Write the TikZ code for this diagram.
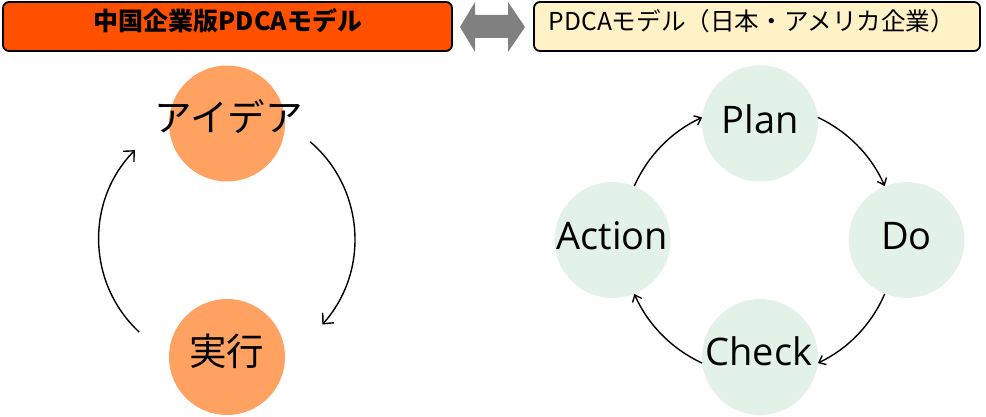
\documentclass[tikz,border=0pt]{standalone}
\usepackage{fontspec}
\usetikzlibrary{arrows.meta}
\newfontfamily\jpfont{Noto Sans CJK JP}
\newfontfamily\latfont{Open Sans}
\definecolor{hdrOrange}{RGB}{255,80,0}
\definecolor{hdrYellow}{RGB}{255,242,198}
\definecolor{circOrange}{RGB}{255,161,96}
\definecolor{circGreen}{RGB}{226,242,230}
\definecolor{dblGrey}{RGB}{128,128,128}
\begin{document}
\begin{tikzpicture}[x=1pt,y=1pt,
  hdrbox/.style={draw=black, line width=1.8pt, rounded corners=6pt, inner sep=0pt},
  orangecirc/.style={circle, fill=circOrange, minimum size=116pt, inner sep=0pt},
  greencirc/.style={circle, fill=circGreen, minimum size=116pt, inner sep=0pt},
  jptxt/.style={anchor=base, inner sep=0pt, font=\jpfont\fontsize{37.5}{40}\selectfont},
  lattxt/.style={anchor=base, inner sep=0pt, font=\latfont\fontsize{38}{40}\selectfont},
  bigcyc/.style={line width=1.4pt, -{Straight Barb[length=8pt,width=15pt]}},
  smallcyc/.style={line width=1.4pt, -{Straight Barb[length=6pt,width=10pt]}}]
\useasboundingbox (0,0) rectangle (986,416);

% headers
\node[hdrbox, fill=hdrOrange, minimum width=449pt, minimum height=49pt] (lhdr) at (227.5,389.5) {};
\node[anchor=base, inner sep=0pt, font=\jpfont\bfseries\fontsize{25}{28}\selectfont] (lhdrtxt) at (228,385) {中国企業版PDCAモデル};
\node[hdrbox, fill=hdrYellow, minimum width=446pt, minimum height=49pt] (rhdr) at (757,389.5) {};
\node[anchor=base, inner sep=0pt, font=\jpfont\fontsize{24.6}{28}\selectfont] (rhdrtxt) at (752,385) {PDCAモデル（日本・アメリカ企業）};

% double arrow
\fill[dblGrey] (460,389) -- (475,414) -- (475,401) -- (508,401) -- (508,414) -- (525,389)
  -- (508,364) -- (508,378) -- (475,378) -- (475,364) -- cycle;

% left cycle
\node[orangecirc] (idea) at (227,292.5) {};
\node[jptxt] (ideatxt) at (228.5,284) {アイデア};
\node[orangecirc] (exec) at (227,59) {};
\node[jptxt] (exectxt) at (226.5,51) {実行};
\coordinate (la1) at (310.1,274.3);
\coordinate (la2) at (322.3,91.5);
\coordinate (lb1) at (139.1,84.0);
\coordinate (lb2) at (134.9,265.9);
\draw[bigcyc] (la1) to[bend left=45.7] (la2);
\draw[bigcyc] (lb1) to[bend left=45.7] (lb2);

% right cycle
\node[greencirc] (plan) at (760,292.5) {};
\node[greencirc] (do) at (906.5,176) {};
\node[greencirc] (check) at (760,59) {};
\node[greencirc] (action) at (612.5,176) {};
\node[lattxt] (plantxt) at (760,283) {Plan};
\node[lattxt] (dotxt) at (906.5,167) {Do};
\node[lattxt] (checktxt) at (759,51) {Check};
\node[lattxt] (actiontxt) at (612.5,167) {Action};
\draw[smallcyc] (plan.6) to[bend left=20.7, looseness=0.88] (do.112);
\draw[smallcyc] (do.248) to[bend left=20.7, looseness=0.88] (check.354);
\draw[smallcyc] (check.186) to[bend left=20.7, looseness=0.88] (action.292);
\draw[smallcyc] (action.68) to[bend left=20.7, looseness=0.88] (plan.174);
\end{tikzpicture}
\end{document}
